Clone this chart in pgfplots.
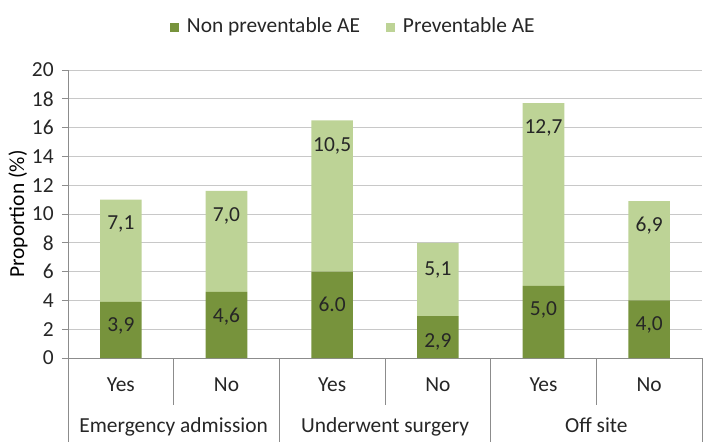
\documentclass[border=0pt]{standalone}
\usepackage{pgfplots}
\pgfplotsset{compat=1.18}
\usepackage{fontspec}
\setmainfont{Carlito}
\definecolor{darkg}{HTML}{77933C}
\definecolor{lightg}{HTML}{BDD396}
\definecolor{gridc}{HTML}{C8C8C8}
\definecolor{axc}{HTML}{8C8C8C}
\definecolor{txt}{HTML}{262626}
\newcommand{\fs}{\fontsize{21.5}{25}\selectfont}
\tikzset{lbl/.style={font=\fs, text=txt, anchor=center},
  grp/.style={font=\fs, text=txt, anchor=base},
  sep/.style={draw=axc, line width=0.8bp}}
\newcommand{\labelnodes}{%
\node[lbl] at (axis cs:1,2.2) {3,9};
\node[lbl] at (axis cs:1,9.3) {7,1};
\node[lbl] at (axis cs:2,2.9) {4,6};
\node[lbl] at (axis cs:2,9.9) {7,0};
\node[lbl] at (axis cs:3,3.7) {6.0};
\node[lbl] at (axis cs:3,14.7) {10,5};
\node[lbl] at (axis cs:4,1.15) {2,9};
\node[lbl] at (axis cs:4,6.1) {5,1};
\node[lbl] at (axis cs:5,3.35) {5,0};
\node[lbl] at (axis cs:5,16.0) {12,7};
\node[lbl] at (axis cs:6,2.3) {4,0};
\node[lbl] at (axis cs:6,9.2) {6,9};
}
\begin{document}
\fs
\begin{tikzpicture}
\useasboundingbox (0,0) rectangle (707bp,442bp);
\begin{axis}[
  at={(68bp,84bp)}, anchor=south west,
  scale only axis, width=634bp, height=288bp,
  ybar stacked, bar width=41.6bp,
  xmin=0.5, xmax=6.5, ymin=0, ymax=20,
  xtick={1,2,3,4,5,6},
  xticklabels={Yes,No,Yes,No,Yes,No},
  ytick={0,2,...,20},
  axis x line*=bottom, axis y line*=left,
  axis line style={draw=axc, line width=0.8bp, -},
  x tick style={draw=none},
  y tick style={draw=axc, line width=0.8bp},
  tick align=outside, major tick length=6bp,
  ymajorgrids, grid style={draw=gridc, line width=0.8bp},
  /pgf/number format/assume math mode=true,
  tick label style={font=\fs, text=txt},
  yticklabel style={xshift=-1bp},
  xticklabel style={anchor=base, yshift=-27bp},
  ylabel={Proportion (\%)},
  ylabel style={font=\fs, text=txt},
  every axis y label/.style={at={(axis description cs:-0.079,0.5)}, rotate=90, anchor=center},
  clip=false,
  legend columns=2,
  legend style={at={(axis description cs:0.45,1.149)}, anchor=center, draw=none, fill=none,
    font=\fs, text=txt, inner sep=0pt,
    /tikz/every even column/.append style={column sep=24bp}},
  legend image code/.code={\fill[#1] (0bp,-4.5bp) rectangle (9bp,4.5bp); \path (15bp,0bp);},
  after end axis/.code={\labelnodes},
]
\addplot[fill=darkg, draw=none] coordinates {(1,3.9) (2,4.6) (3,6.0) (4,2.9) (5,5.0) (6,4.0)};
\addlegendentry{Non preventable AE}
\addplot[fill=lightg, draw=none] coordinates {(1,7.1) (2,7.0) (3,10.5) (4,5.1) (5,12.7) (6,6.9)};
\addlegendentry{Preventable AE}
\draw[sep] (axis cs:0.5,0) -- ([yshift=-84bp]axis cs:0.5,0);
\draw[sep] (axis cs:2.5,0) -- ([yshift=-84bp]axis cs:2.5,0);
\draw[sep] (axis cs:4.5,0) -- ([yshift=-84bp]axis cs:4.5,0);
\draw[sep] (axis cs:6.5,0) -- ([yshift=-84bp]axis cs:6.5,0);
\draw[sep] (axis cs:1.5,0) -- ([yshift=-47bp]axis cs:1.5,0);
\draw[sep] (axis cs:3.5,0) -- ([yshift=-47bp]axis cs:3.5,0);
\draw[sep] (axis cs:5.5,0) -- ([yshift=-47bp]axis cs:5.5,0);
\node[grp] at (axis cs:1.5,0) [yshift=-74bp] {Emergency admission};
\node[grp] at (axis cs:3.5,0) [yshift=-74bp] {Underwent surgery};
\node[grp] at (axis cs:5.5,0) [yshift=-74bp] {Off site};
\end{axis}
\end{tikzpicture}
\end{document}
